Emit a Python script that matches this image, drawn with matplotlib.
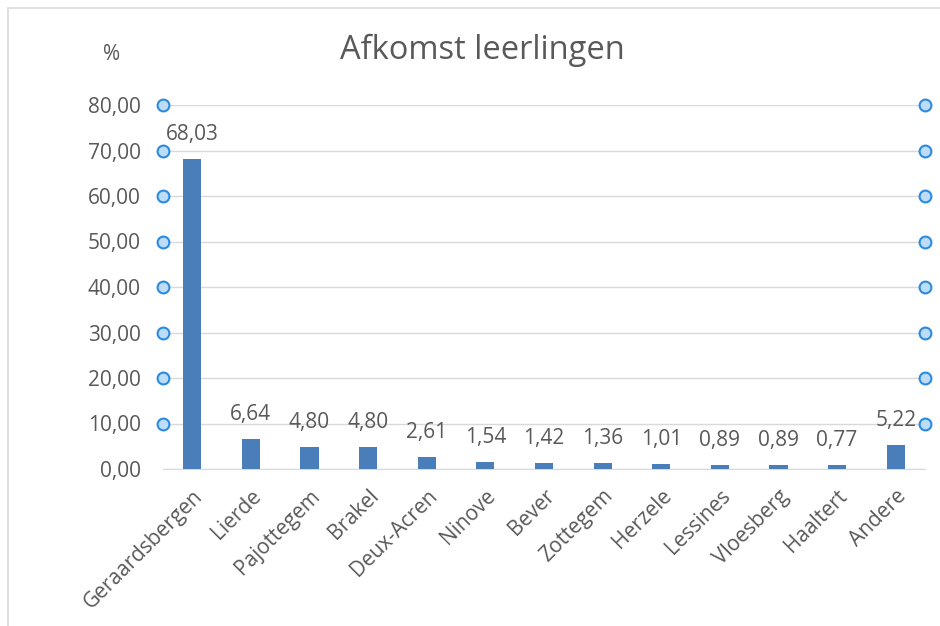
import matplotlib.pyplot as plt
from matplotlib.patches import Rectangle

# gegevens
gemeenten = ["Geraardsbergen", "Lierde", "Pajottegem", "Brakel", "Deux-Acren",
             "Ninove", "Bever", "Zottegem", "Herzele", "Lessines", "Vloesberg",
             "Haaltert", "Andere"]
procent = [68.03, 6.64, 4.80, 4.80, 2.61, 1.54, 1.42, 1.36, 1.01, 0.89, 0.89, 0.77, 5.22]
yticks = [0, 10, 20, 30, 40, 50, 60, 70, 80]

grijs = "#595959"
plt.rcParams["font.family"] = ["Open Sans", "DejaVu Sans"]

fig = plt.figure(figsize=(9.4, 6.26), dpi=100)
ax = fig.add_axes([163 / 940, 1 - 469 / 626, 762 / 940, 364 / 626])

x = list(range(len(gemeenten)))
ax.bar(x, procent, width=0.31, color="#4a7ebb", zorder=3)
ax.set_xlim(-0.5, len(gemeenten) - 0.5)
ax.set_ylim(0, 80)

# data labels
for xi, v in zip(x, procent):
    ax.annotate(f"{v:.2f}".replace(".", ","), (xi, v), xytext=(0, 13.7),
                textcoords="offset points", ha="center", va="baseline",
                fontsize=15, color=grijs)

ax.set_yticks(yticks)
ax.set_yticklabels([f"{t:.2f}".replace(".", ",") for t in yticks], fontsize=15, color=grijs)
ax.set_xticks(x)
ax.set_xticklabels(gemeenten, rotation=45, ha="right", rotation_mode="anchor",
                   fontsize=15, color=grijs)
ax.tick_params(axis="both", length=0)
ax.tick_params(axis="y", pad=16)
ax.tick_params(axis="x", pad=12)

ax.grid(axis="y", color="#d9d9d9", linewidth=1, zorder=0)
for s in ["top", "right", "left"]:
    ax.spines[s].set_visible(False)
ax.spines["bottom"].set_color("#d9d9d9")

# selectiegrepen van de rasterlijnen
for t in yticks[1:]:
    for xa in (0, 1):
        ax.plot(xa, t, marker="o", markersize=8.5, markerfacecolor="#bcdcf8",
                markeredgecolor="#2b8be0", markeredgewidth=1.5,
                transform=ax.get_yaxis_transform(), clip_on=False, zorder=5)

fig.text(482 / 940, 1 - 50 / 626, "Afkomst leerlingen", ha="center", va="center",
         fontsize=23.5, color=grijs)
fig.text(112 / 940, 1 - 55 / 626, "%", ha="center", va="center", fontsize=15, color=grijs)

# rand van het grafiekgebied
fig.add_artist(Rectangle((8 / 940, -0.1), 1.2, 1.1 - 8 / 626, transform=fig.transFigure,
                         fill=False, edgecolor="#d9d9d9", linewidth=1.2))

plt.savefig("out.png")
